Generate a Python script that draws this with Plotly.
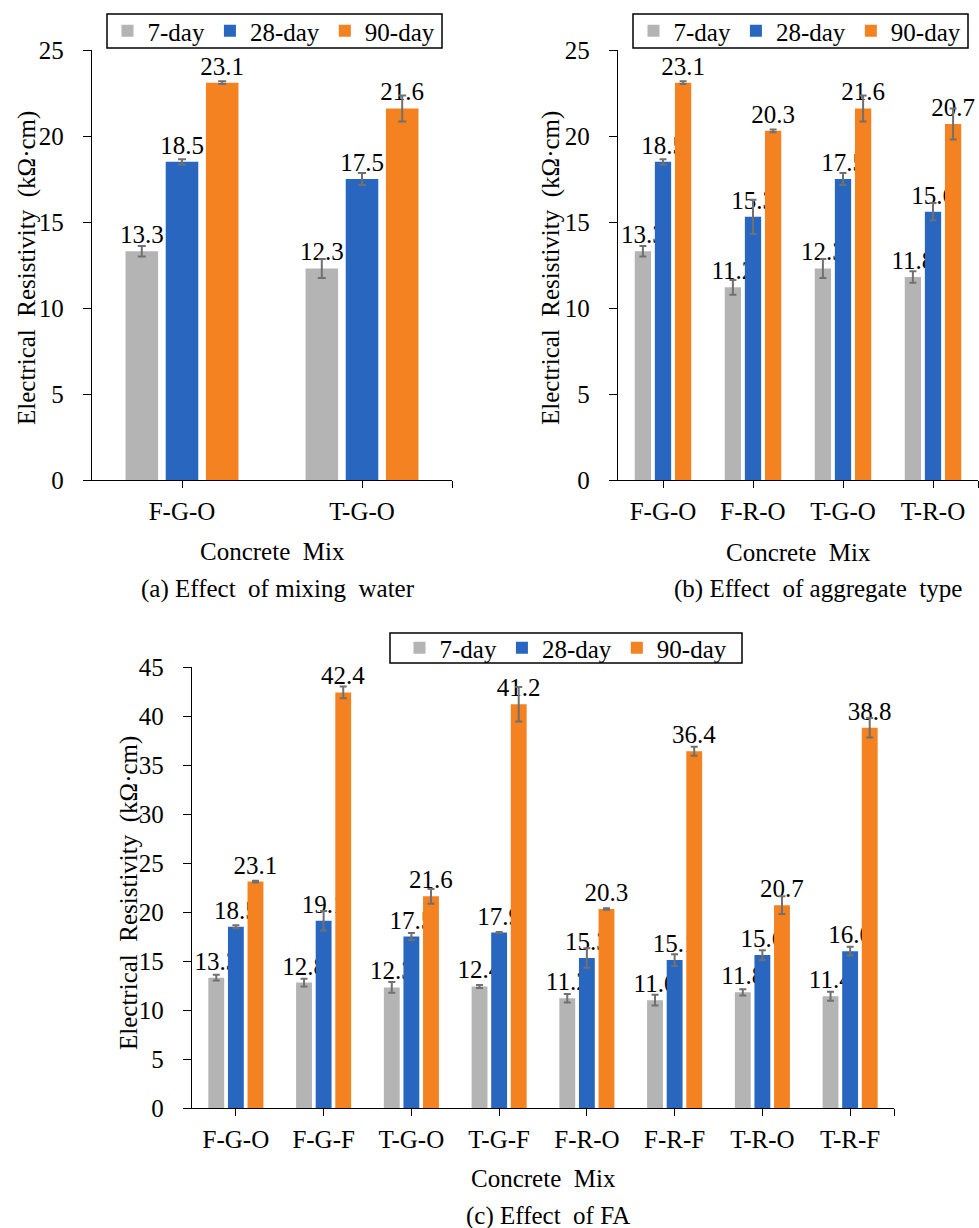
import plotly.graph_objects as go

# ---- data ---------------------------------------------------------------
ages = ["7-day", "28-day", "90-day"]

mix_a = ["F-G-O", "T-G-O"]
val_a_7 = [13.3, 12.3]
val_a_28 = [18.5, 17.5]
val_a_90 = [23.1, 21.6]
err_a_7 = [0.30, 0.55]
err_a_28 = [0.15, 0.35]
err_a_90 = [0.08, 0.75]

mix_b = ["F-G-O", "F-R-O", "T-G-O", "T-R-O"]
val_b_7 = [13.3, 11.2, 12.3, 11.8]
val_b_28 = [18.5, 15.3, 17.5, 15.6]
val_b_90 = [23.1, 20.3, 21.6, 20.7]
err_b_7 = [0.30, 0.43, 0.55, 0.33]
err_b_28 = [0.15, 1.00, 0.35, 0.50]
err_b_90 = [0.08, 0.08, 0.75, 0.90]

mix_c = ["F-G-O", "F-G-F", "T-G-O", "T-G-F", "F-R-O", "F-R-F", "T-R-O", "T-R-F"]
val_c_7 = [13.3, 12.8, 12.3, 12.4, 11.2, 11.0, 11.8, 11.4]
val_c_28 = [18.5, 19.1, 17.5, 17.9, 15.3, 15.1, 15.6, 16.0]
val_c_90 = [23.1, 42.4, 21.6, 41.2, 20.3, 36.4, 20.7, 38.8]
err_c_7 = [0.30, 0.40, 0.55, 0.15, 0.43, 0.55, 0.33, 0.45]
err_c_28 = [0.15, 1.00, 0.35, 0.05, 1.00, 0.60, 0.50, 0.45]
err_c_90 = [0.08, 0.60, 0.75, 1.75, 0.08, 0.45, 0.90, 1.00]

# ---- styling ------------------------------------------------------------
W, H = 979, 1228
FONT = "Liberation Serif, Times New Roman, serif"
FS = 25
colors = ["#B4B4B4", "#2966C0", "#F58220"]
err_color = "#707070"


def px(x):
    return x / W


def py(y):
    return 1 - y / H


fig = go.Figure()

panels = [
    ("x", "y", "legend", mix_a, [val_a_7, val_a_28, val_a_90], [err_a_7, err_a_28, err_a_90], 4),
    ("x2", "y2", "legend2", mix_b, [val_b_7, val_b_28, val_b_90], [err_b_7, err_b_28, err_b_90], 3.5),
    ("x3", "y3", "legend3", mix_c, [val_c_7, val_c_28, val_c_90], [err_c_7, err_c_28, err_c_90], 3.5),
]

for xa, ya, lg, mixes, vals, errs, capw in panels:
    pos = list(range(len(mixes)))
    for name, col, v, e in zip(ages, colors, vals, errs):
        fig.add_trace(go.Bar(
            x=pos, y=v, name=name, legend=lg,
            xaxis=xa, yaxis=ya,
            marker=dict(color=col, line=dict(width=0)),
            error_y=dict(type="data", array=e, color=err_color,
                         thickness=2, width=capw),
            text=[f"{t:.1f}" for t in v],
            textposition="outside",
            constraintext="none",
            cliponaxis=False,
            textfont=dict(family=FONT, size=FS, color="black"),
        ))


def xaxis_cfg(domain, mixes, anchor):
    n = len(mixes)
    return dict(
        domain=domain, anchor=anchor, range=[-0.5, n - 0.5],
        tickvals=list(range(n)) + [n - 0.5],
        ticktext=list(mixes) + [""],
        ticks="outside", ticklen=7, tickwidth=1.3, tickcolor="black",
        showline=True, linecolor="black", linewidth=1.3,
        showgrid=False, zeroline=False, fixedrange=True, automargin=False,
        tickfont=dict(family=FONT, size=FS, color="black"),
        ticklabelstandoff=2,
    )


def yaxis_cfg(domain, top, anchor):
    return dict(
        domain=domain, anchor=anchor, range=[0, top], dtick=5, tick0=0,
        ticks="outside", ticklen=8, tickwidth=1.3, tickcolor="black",
        showline=True, linecolor="black", linewidth=1.3,
        showgrid=False, zeroline=False, fixedrange=True, automargin=False,
        tickfont=dict(family=FONT, size=FS, color="black"),
        ticklabelstandoff=14,
    )


def legend_cfg(xc, yc):
    return dict(
        orientation="h", x=px(xc), xanchor="center", y=py(yc), yanchor="middle",
        borderwidth=0, bgcolor="rgba(0,0,0,0)",
        font=dict(family=FONT, size=FS, color="black"),
        traceorder="normal", itemclick=False, itemdoubleclick=False,
    )


# legend frames (x0, y0, x1, y1 in pixels from the top-left corner)
legend_boxes = [(107, 14, 442, 48), (633, 14, 968, 48), (390, 633, 742, 663)]
shapes = [
    dict(type="rect", xref="paper", yref="paper",
         x0=px(x0), x1=px(x1), y0=py(y1), y1=py(y0),
         line=dict(color="black", width=1.5), fillcolor="white", layer="below")
    for x0, y0, x1, y1 in legend_boxes
]

ytitle = "Electrical\u00a0 Resistivity\u00a0 (kΩ·cm)"
xtitle = "Concrete\u00a0 Mix"

annotations = []
for text, x, y, ang in [
    (ytitle, 27, 268, -90),
    (ytitle, 551, 268, -90),
    (ytitle, 129, 893, -90),
    (xtitle, 272, 551, 0),
    (xtitle, 798, 552, 0),
    (xtitle, 543, 1178, 0),
    ("(a) Effect\u00a0 of mixing\u00a0 water", 278, 589, 0),
    ("(b) Effect\u00a0 of aggregate\u00a0 type", 818, 589, 0),
    ("(c) Effect\u00a0 of FA", 548, 1216, 0),
]:
    annotations.append(dict(
        text=text, x=px(x), y=py(y), xref="paper", yref="paper",
        xanchor="center", yanchor="middle", textangle=ang, showarrow=False,
        font=dict(family=FONT, size=FS, color="black"),
    ))

fig.update_layout(
    width=W, height=H,
    margin=dict(l=0, r=0, t=0, b=0, autoexpand=False),
    paper_bgcolor="white", plot_bgcolor="white",
    font=dict(family=FONT, size=FS, color="black"),
    barmode="group", bargap=0.33, bargroupgap=0.19,
    xaxis=xaxis_cfg([px(92), px(452)], mix_a, "y"),
    yaxis=yaxis_cfg([py(480), py(50)], 25, "x"),
    xaxis2=xaxis_cfg([px(618), px(978)], mix_b, "y2"),
    yaxis2=yaxis_cfg([py(480), py(50)], 25, "x2"),
    xaxis3=xaxis_cfg([px(192), px(894)], mix_c, "y3"),
    yaxis3=yaxis_cfg([py(1108), py(667)], 45, "x3"),
    legend=legend_cfg(274, 31),
    legend2=legend_cfg(800, 31),
    legend3=legend_cfg(566, 648),
    shapes=shapes,
    annotations=annotations,
    showlegend=True,
)

fig.write_html("out.html")
